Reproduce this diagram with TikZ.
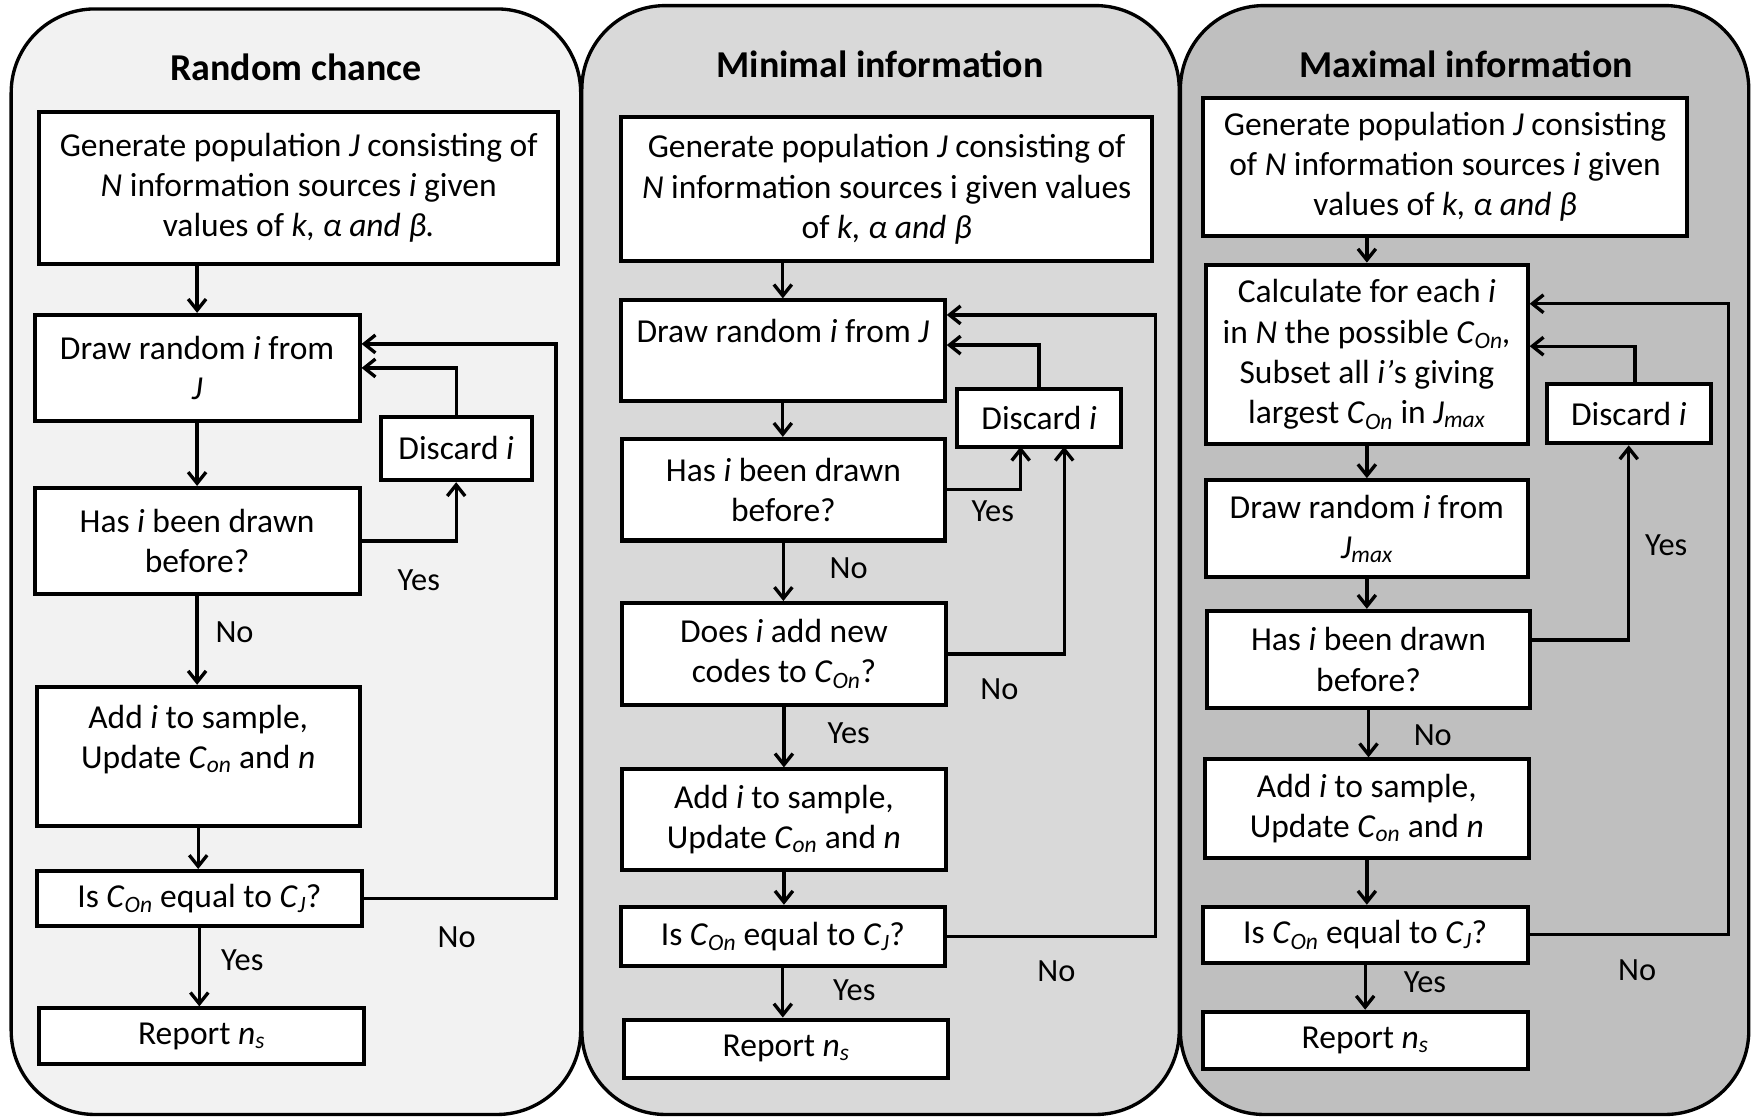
\documentclass[tikz,border=0pt]{standalone}
\usepackage{fontspec}
\setmainfont{Carlito}
\usetikzlibrary{arrows.meta}
\definecolor{paneA}{HTML}{F2F2F2}
\definecolor{paneB}{HTML}{D9D9D9}
\definecolor{paneC}{HTML}{BFBFBF}
\newcommand{\csub}[2]{\textit{#1}\textsubscript{\textit{#2}}}

\begin{document}
\begin{tikzpicture}[x=1pt, y=-1pt,
    box/.style={draw, line width=3.6pt, fill=white, inner sep=0pt, align=center, font=\fontsize{30}{36}\selectfont},
    arr/.style={line width=3pt, -{Straight Barb[length=10pt,width=16pt]}},
    lab/.style={font=\fontsize{29}{34}\selectfont},
    ttl/.style={font=\fontsize{34}{40}\selectfont\bfseries}]
      \useasboundingbox (0,0) rectangle (1568,1000);

      % panels
      \begin{scope}[line width=3pt, rounded corners=75pt]
      \draw[fill=paneA] (10,8) rectangle (520,998);
      \draw[fill=paneB] (521,5) rectangle (1056,998);
      \draw[fill=paneC] (1057,5) rectangle (1566,998);
      \end{scope}
      \node[ttl] (t1) at (265,60) {Random chance};
      \node[ttl] (t2) at (788,58) {Minimal information};
      \node[ttl] (t3) at (1313,58) {Maximal information};

      % random chance
      \node[box, minimum width=465, minimum height=136] (gen1) at (267.5,168) {Generate population \textit{J} consisting of\\\textit{N} information sources \textit{i} given\\values of \textit{k, α and β.}};
      \node[box, minimum width=291, minimum height=95] (draw1) at (176.5,329.5) {Draw random \textit{i} from\\\textit{J}};
      \node[box, minimum width=135, minimum height=57] (disc1) at (408.5,401.5) {Discard \textit{i}};
      \node[box, minimum width=291, minimum height=95] (has1) at (176.5,484.5) {Has \textit{i} been drawn\\before?};
      \node[box, minimum width=289, minimum height=125] (add1) at (177.5,677.5) {Add \textit{i} to sample,\\Update \csub{C}{on} and \textit{n}\\\mbox{}};
      \node[box, minimum width=291, minimum height=49] (is1) at (178.5,804.5) {Is \csub{C}{On} equal to \csub{C}{J}?};
      \node[box, minimum width=291, minimum height=50] (rep1) at (180.5,928) {Report \csub{n}{s}};
      \coordinate (back1) at (498,308);
      \draw[arr] (gen1.south -| draw1.north) -- (draw1.north);
      \draw[arr] (draw1.south) -- (draw1.south |- has1.north);
      \draw[arr] (has1.south) -- (has1.south |- add1.north);
      \draw[arr] (add1.south) -- (add1.south |- is1.north);
      \draw[arr] (is1.south) -- (is1.south |- rep1.north);
      \draw[arr] (has1.east) -| (disc1.south);
      \draw[arr] (disc1.north) |- (draw1.east);
      \draw[arr] (is1.east) -| (back1) -- (back1 -| draw1.east);
      \node[lab] (y1a) at (375,520) {Yes};
      \node[lab] (n1a) at (210,566) {No};
      \node[lab] (n1b) at (409,839) {No};
      \node[lab] (y1b) at (217,860) {Yes};

      % minimal information
      \node[box, minimum width=476, minimum height=129] (gen2) at (794,169.5) {Generate population \textit{J} consisting of\\\textit{N} information sources i given values\\of \textit{k, α and β}};
      \node[box, minimum width=290, minimum height=90] (draw2) at (701,314) {Draw random \textit{i} from \textit{J}\\\mbox{}};
      \node[box, minimum width=147, minimum height=52] (disc2) at (930.5,374) {Discard \textit{i}};
      \node[box, minimum width=289, minimum height=91] (has2) at (701.5,438.5) {Has \textit{i} been drawn\\before?};
      \node[box, minimum width=290, minimum height=91] (does2) at (702,585.5) {Does \textit{i} add new\\codes to \csub{C}{On}?};
      \node[box, minimum width=290, minimum height=90] (add2) at (702,734) {Add \textit{i} to sample,\\Update \csub{C}{on} and \textit{n}};
      \node[box, minimum width=290, minimum height=53] (is2) at (701,838.5) {Is \csub{C}{On} equal to \csub{C}{J}?};
      \node[box, minimum width=290, minimum height=52] (rep2) at (704,939) {Report \csub{n}{s}};
      \coordinate (yes2) at (914,400);
      \coordinate (no2) at (953,400);
      \coordinate (up2) at (931,309);
      \coordinate (back2) at (1035,282);
      \draw[arr] (gen2.south -| draw2.north) -- (draw2.north);
      \draw[arr] (draw2.south) -- (draw2.south |- has2.north);
      \draw[arr] (has2.south) -- (has2.south |- does2.north);
      \draw[arr] (does2.south) -- (does2.south |- add2.north);
      \draw[arr] (add2.south) -- (add2.south |- is2.north);
      \draw[arr] (is2.south) -- (is2.south |- rep2.north);
      \draw[arr] (has2.east) -| (yes2);
      \draw[arr] (does2.east) -| (no2);
      \draw[arr] (disc2.north) |- (up2 -| draw2.east);
      \draw[arr] (is2.east) -| (back2) -- (back2 -| draw2.east);
      \node[lab] (y2a) at (889,458) {Yes};
      \node[lab] (n2a) at (760,509) {No};
      \node[lab] (n2b) at (895,617) {No};
      \node[lab] (y2b) at (760,657) {Yes};
      \node[lab] (n2c) at (946,870) {No};
      \node[lab] (y2c) at (765,887) {Yes};

      % maximal information
      \node[box, minimum width=434, minimum height=123] (gen3) at (1294,149.5) {Generate population \textit{J} consisting\\of \textit{N} information sources \textit{i} given\\values of \textit{k, α and β}};
      \node[box, minimum width=288, minimum height=161] (calc3) at (1224,317.5) {Calculate for each \textit{i}\\in \textit{N} the possible \csub{C}{On}\textit{,}\\Subset all \textit{i’}s giving\\largest \csub{C}{On} in \csub{J}{max}};
      \node[box, minimum width=147, minimum height=53] (disc3) at (1458.5,370.5) {Discard \textit{i}};
      \node[box, minimum width=288, minimum height=87] (draw3) at (1224,473.5) {Draw random \textit{i} from\\\csub{J}{max}};
      \node[box, minimum width=289, minimum height=87] (has3) at (1225.5,590.5) {Has \textit{i} been drawn\\before?};
      \node[box, minimum width=290, minimum height=88] (add3) at (1224,724) {Add \textit{i} to sample,\\Update \csub{C}{on} and \textit{n}};
      \node[box, minimum width=291, minimum height=50] (is3) at (1222.5,837) {Is \csub{C}{On} equal to \csub{C}{J}?};
      \node[box, minimum width=291, minimum height=51] (rep3) at (1222.5,931.5) {Report \csub{n}{s}};
      \coordinate (yes3) at (1458,573);
      \coordinate (up3) at (1464,310);
      \coordinate (back3) at (1548,272);
      \draw[arr] (gen3.south -| calc3.north) -- (calc3.north);
      \draw[arr] (calc3.south) -- (calc3.south |- draw3.north);
      \draw[arr] (draw3.south) -- (draw3.south |- has3.north);
      \draw[arr] (has3.south) -- (has3.south |- add3.north);
      \draw[arr] (add3.south) -- (add3.south |- is3.north);
      \draw[arr] (is3.south) -- (is3.south |- rep3.north);
      \draw[arr] (has3.east |- yes3) -| (disc3.south);
      \draw[arr] (disc3.north -| up3) -- (up3) -- (up3 -| calc3.east);
      \draw[arr] (is3.east) -| (back3) -- (back3 -| calc3.east);
      \node[lab] (y3a) at (1492,488) {Yes};
      \node[lab] (n3a) at (1283,658) {No};
      \node[lab] (y3b) at (1276,880) {Yes};
      \node[lab] (n3b) at (1466,869) {No};
\end{tikzpicture}
\end{document}
